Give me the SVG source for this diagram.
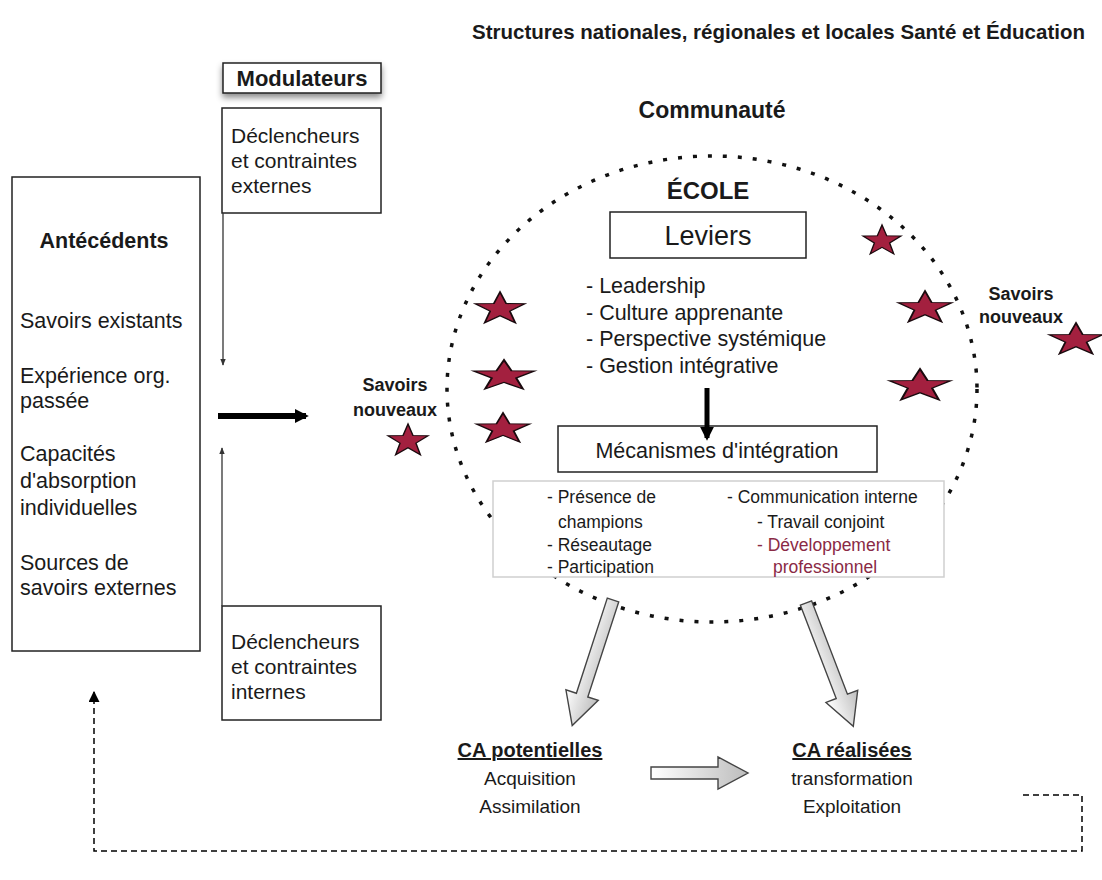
<svg xmlns="http://www.w3.org/2000/svg" width="1102" height="880" viewBox="0 0 1102 880">
  <style>
    .t { font-family: "Liberation Sans", Arial, sans-serif; fill: #1a1a1a; }
    .b { font-weight: bold; }
    .box { fill: #ffffff; stroke: #222; stroke-width: 1.5; }
    .thin { stroke: #333; stroke-width: 1.3; fill: none; }
    .star { fill: #a3203f; stroke: #1a0a0e; stroke-width: 0.07; stroke-linejoin: miter; }
    .hollow { fill: url(#hollowGrad); stroke: #444; stroke-width: 1.4; }
  </style>
  <defs>
    <linearGradient id="hollowGrad" x1="0" y1="0" x2="1" y2="0">
      <stop offset="0" stop-color="#ffffff"/>
      <stop offset="1" stop-color="#bdbdbd"/>
    </linearGradient>
    <marker id="thinHead" viewBox="0 0 10 10" refX="9" refY="5" markerWidth="7" markerHeight="7" orient="auto-start-reverse" markerUnits="userSpaceOnUse">
      <path d="M0,1 L10,5 L0,9 z" fill="#333"/>
    </marker>
    <marker id="dashHead" viewBox="0 0 10 10" refX="9" refY="5" markerWidth="11" markerHeight="11" orient="auto" markerUnits="userSpaceOnUse">
      <path d="M0,0 L10,5 L0,10 z" fill="#000"/>
    </marker>
    <marker id="boldHead" viewBox="0 0 10 10" refX="8" refY="5" markerWidth="14" markerHeight="16" orient="auto" markerUnits="userSpaceOnUse">
      <path d="M0,0 L10,5 L0,10 z" fill="#000"/>
    </marker>
    <path id="star" d="M0,-1 L0.235,-0.324 L0.951,-0.309 L0.38,0.124 L0.588,0.809 L0,0.4 L-0.588,0.809 L-0.38,0.124 L-0.951,-0.309 L-0.235,-0.324 Z"/>
    <filter id="shadow" x="-10%" y="-20%" width="120%" height="160%">
      <feDropShadow dx="0" dy="4" stdDeviation="3" flood-color="#000" flood-opacity="0.45"/>
    </filter>
  </defs>

  <rect width="1102" height="880" fill="#ffffff"/>

  <!-- heading -->
  <text class="t b" x="1085" y="39" font-size="20.5" text-anchor="end">Structures nationales, régionales et locales Santé et Éducation</text>

  <!-- community and school -->
  <g id="communaute">
    <text class="t b" x="712" y="118" font-size="23" text-anchor="middle">Communauté</text>
  </g>
  <g id="ecole">
    <ellipse cx="712" cy="389" rx="265" ry="233" fill="none" stroke="#111" stroke-width="3.5" stroke-dasharray="4 11"/>
    <text class="t b" x="708" y="199" font-size="24" text-anchor="middle">ÉCOLE</text>
  </g>

  <!-- levers -->
  <g id="leviers">
    <rect class="box" x="610" y="212" width="196" height="46"/>
    <text class="t" x="708" y="245" font-size="27" text-anchor="middle">Leviers</text>
    <g class="t" font-size="21.5">
      <text x="586" y="293">- Leadership</text>
      <text x="586" y="320">- Culture apprenante</text>
      <text x="586" y="346">- Perspective systémique</text>
      <text x="586" y="373">- Gestion intégrative</text>
    </g>
  </g>

  <!-- integration mechanisms -->
  <g id="mecanismes">
    <rect class="box" x="558" y="426" width="319" height="46"/>
    <text class="t" x="717" y="458" font-size="21.5" text-anchor="middle">Mécanismes d'intégration</text>
  </g>
  <g id="mecanismes-liste">
    <rect x="493" y="481" width="451" height="96" fill="#ffffff" stroke="#cfcfcf" stroke-width="1.5"/>
    <g class="t" font-size="17.5">
      <text x="547" y="503">- Présence de</text>
      <text x="558" y="528">champions</text>
      <text x="547" y="551">- Réseautage</text>
      <text x="547" y="573">- Participation</text>
      <text x="727" y="503">- Communication interne</text>
      <text x="757" y="528">- Travail conjoint</text>
      <text x="757" y="551" fill="#8a2a45">- Développement</text>
      <text x="773" y="573" fill="#8a2a45">professionnel</text>
    </g>
  </g>

  <!-- modulators -->
  <g id="modulateurs">
    <rect class="box" x="223" y="63" width="158" height="30" filter="url(#shadow)"/>
    <text class="t b" x="302" y="86" font-size="22" text-anchor="middle">Modulateurs</text>
  </g>
  <g id="declencheurs-externes">
    <rect class="box" x="222" y="108" width="159" height="105"/>
    <g class="t" font-size="21">
      <text x="231" y="143">Déclencheurs</text>
      <text x="231" y="168">et contraintes</text>
      <text x="231" y="193">externes</text>
    </g>
  </g>
  <g id="declencheurs-internes">
    <rect class="box" x="222" y="606" width="159" height="114"/>
    <g class="t" font-size="21">
      <text x="231" y="649">Déclencheurs</text>
      <text x="231" y="674">et contraintes</text>
      <text x="231" y="699">internes</text>
    </g>
  </g>

  <!-- antecedents -->
  <g id="antecedents">
    <rect class="box" x="12" y="177" width="188" height="474"/>
    <text class="t b" x="104" y="248" font-size="21.5" text-anchor="middle">Antécédents</text>
    <g class="t" font-size="21.5">
      <text x="20" y="328">Savoirs existants</text>
      <text x="20" y="383">Expérience org.</text>
      <text x="20" y="408">passée</text>
      <text x="20" y="461">Capacités</text>
      <text x="20" y="488">d'absorption</text>
      <text x="20" y="515">individuelles</text>
      <text x="20" y="570">Sources de</text>
      <text x="20" y="595">savoirs externes</text>
    </g>
  </g>

  <!-- new knowledge -->
  <g id="savoirs-nouveaux-gauche">
    <text class="t b" x="395" y="391" font-size="18" text-anchor="middle">Savoirs</text>
    <text class="t b" x="395" y="416" font-size="18" text-anchor="middle">nouveaux</text>
  </g>
  <g id="savoirs-nouveaux-droite">
    <text class="t b" x="1021" y="300" font-size="18" text-anchor="middle">Savoirs</text>
    <text class="t b" x="1021" y="323" font-size="18" text-anchor="middle">nouveaux</text>
  </g>

  <!-- stars -->
  <g id="etoiles">
    <use href="#star" class="star" transform="translate(882,241) scale(20,16)"/>
    <use href="#star" class="star" transform="translate(500,309) scale(26,17)"/>
    <use href="#star" class="star" transform="translate(925,308) scale(28,17)"/>
    <use href="#star" class="star" transform="translate(504,376) scale(32,16)"/>
    <use href="#star" class="star" transform="translate(920,386) scale(32,17)"/>
    <use href="#star" class="star" transform="translate(503,429) scale(28,16)"/>
    <use href="#star" class="star" transform="translate(408,441) scale(21,17)"/>
    <use href="#star" class="star" transform="translate(1076,340) scale(28,17)"/>
  </g>

  <!-- outcomes -->
  <g id="ca-potentielles">
    <text class="t b" x="530" y="757" font-size="20" text-anchor="middle" text-decoration="underline">CA potentielles</text>
    <text class="t" x="530" y="785" font-size="19" text-anchor="middle">Acquisition</text>
    <text class="t" x="530" y="813" font-size="19" text-anchor="middle">Assimilation</text>
  </g>
  <g id="ca-realisees">
    <text class="t b" x="852" y="757" font-size="20" text-anchor="middle" text-decoration="underline">CA réalisées</text>
    <text class="t" x="852" y="785" font-size="19" text-anchor="middle">transformation</text>
    <text class="t" x="852" y="813" font-size="19" text-anchor="middle">Exploitation</text>
  </g>

  <!-- connectors -->
  <g id="connecteurs">
    <line class="thin" x1="223" y1="213" x2="223" y2="365" marker-end="url(#thinHead)"/>
    <line class="thin" x1="222" y1="606" x2="222" y2="448" marker-end="url(#thinHead)"/>
    <line x1="218" y1="416" x2="306" y2="416" stroke="#000" stroke-width="6" marker-end="url(#boldHead)"/>
    <line x1="707" y1="388" x2="707" y2="438" stroke="#000" stroke-width="5" marker-end="url(#boldHead)"/>
    <path d="M1023,795 H1082 V851 H94 V692" fill="none" stroke="#000" stroke-width="1.5" stroke-dasharray="6 4" marker-end="url(#dashHead)"/>
    <path class="hollow" transform="translate(613,600) rotate(18)" d="M-6,0 L-6,100 L-17,100 L0,132 L17,100 L6,100 L6,0 Z"/>
    <path class="hollow" transform="translate(806,603) rotate(-21)" d="M-6,0 L-6,100 L-17,100 L0,132 L17,100 L6,100 L6,0 Z"/>
    <path class="hollow" d="M651,767 H718 V757 L748,773 L718,789 V779 H651 Z"/>
  </g>
</svg>
